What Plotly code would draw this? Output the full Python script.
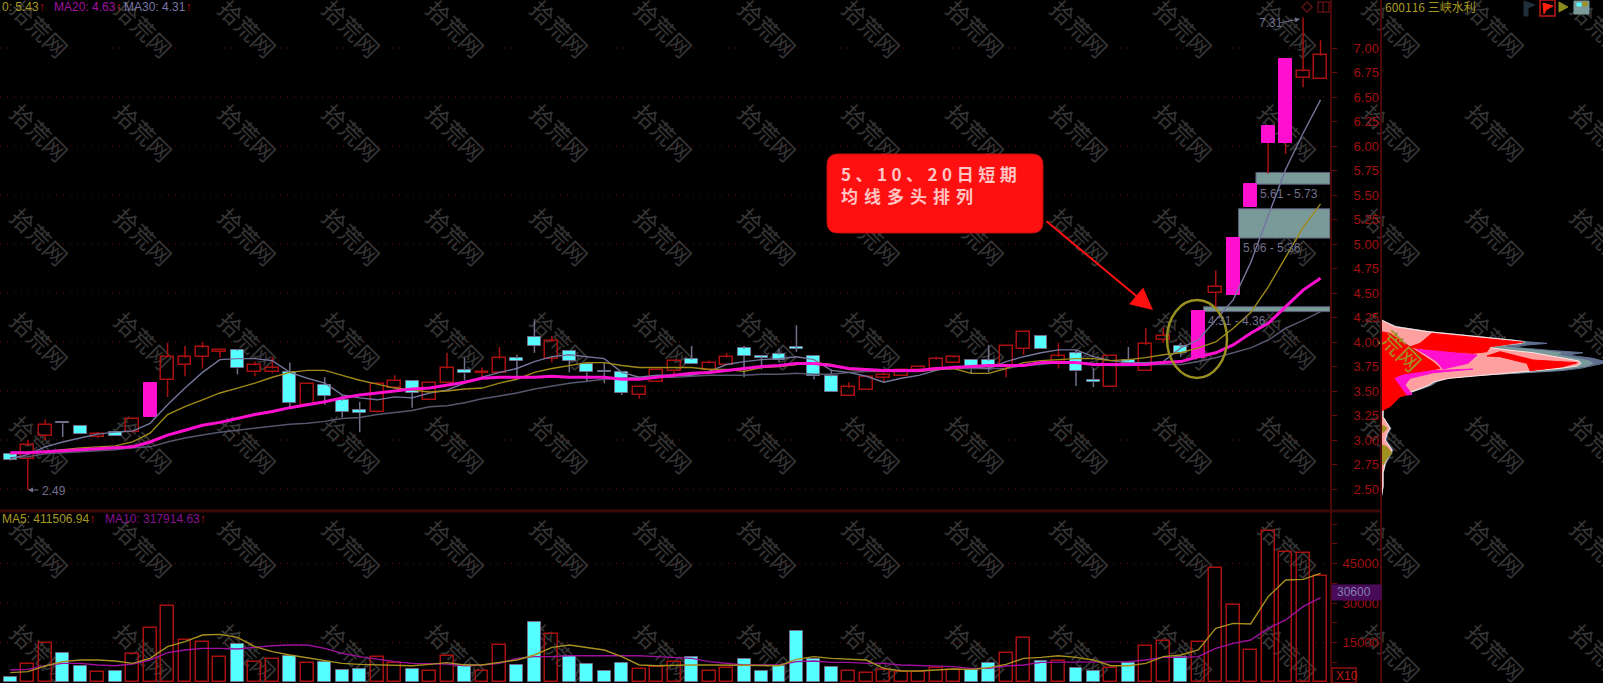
import plotly.graph_objects as go

W, H = 1603, 683

opens = [2.85,2.81,3.04,3.18,3.14,3.03,3.08,3.08,3.23,3.61,3.77,3.85,3.90,3.91,3.69,3.69,3.69,3.36,3.56,3.40,
         3.30,3.29,3.53,3.60,3.41,3.58,3.71,3.68,3.68,3.83,4.05,3.83,3.90,3.77,3.70,3.69,3.46,3.59,3.70,3.82,
         3.71,3.77,3.93,3.85,3.87,3.94,3.85,3.65,3.45,3.51,3.63,3.65,3.71,3.72,3.79,3.81,3.81,3.75,3.93,4.06,
         3.80,3.88,3.61,3.54,3.81,3.70,4.02,3.95,3.84,4.50,4.48,5.38,6.03,6.03,6.69,6.68]
closes = [2.80,2.94,3.15,3.17,3.06,3.06,3.04,3.21,3.58,3.84,3.84,3.94,3.91,3.73,3.76,3.73,3.38,3.57,3.45,3.29,
          3.28,3.57,3.60,3.48,3.58,3.73,3.68,3.69,3.83,3.81,3.96,4.00,3.81,3.69,3.69,3.48,3.53,3.71,3.80,3.78,
          3.78,3.84,3.86,3.84,3.82,3.93,3.65,3.49,3.53,3.64,3.66,3.71,3.74,3.82,3.84,3.72,3.75,3.95,4.10,3.93,
          3.85,3.70,3.59,3.85,3.79,3.97,4.06,3.89,4.31,4.56,5.06,5.61,6.20,6.88,6.76,6.92]
highs = [2.86,3.00,3.21,3.18,3.14,3.08,3.08,3.23,3.58,3.99,3.96,4.00,3.91,3.93,3.80,3.85,3.79,3.57,3.64,3.46,
         3.39,3.59,3.66,3.61,3.58,3.89,3.84,3.74,3.95,3.87,4.22,4.06,3.90,3.77,3.79,3.69,3.53,3.71,3.80,3.96,
         3.81,3.89,3.96,3.87,3.93,4.17,3.85,3.72,3.59,3.64,3.69,3.71,3.74,3.85,3.86,3.81,3.97,3.95,4.10,4.06,
         3.99,3.92,3.73,3.85,3.95,4.14,4.15,3.99,4.31,4.73,5.06,5.61,6.20,6.88,7.31,7.08]
lows = [2.79,2.49,3.00,3.03,3.06,3.02,3.04,3.07,3.23,3.44,3.65,3.73,3.84,3.67,3.65,3.68,3.34,3.36,3.36,3.23,
        3.08,3.28,3.53,3.33,3.41,3.58,3.61,3.64,3.68,3.64,3.89,3.79,3.69,3.59,3.58,3.46,3.42,3.59,3.64,3.78,
        3.71,3.77,3.64,3.72,3.80,3.90,3.62,3.49,3.45,3.51,3.59,3.65,3.71,3.72,3.79,3.68,3.69,3.64,3.87,3.93,
        3.73,3.55,3.54,3.54,3.78,3.70,3.99,3.85,3.84,4.35,4.48,5.38,5.72,5.92,6.60,6.68]
limit_up = [8, 68, 70, 71, 72, 73]

ma5 = [2.81,2.85,2.93,2.98,3.02,3.06,3.08,3.09,3.17,3.36,3.53,3.69,3.82,3.83,3.83,3.81,3.69,3.63,3.58,3.46,
       3.43,3.41,3.44,3.43,3.48,3.51,3.58,3.64,3.69,3.73,3.80,3.85,3.87,3.85,3.83,3.69,3.64,3.66,3.66,3.66,
       3.70,3.77,3.80,3.82,3.83,3.85,3.82,3.71,3.69,3.65,3.59,3.63,3.66,3.71,3.75,3.75,3.73,3.80,3.85,3.89,
       3.92,3.92,3.85,3.81,3.79,3.79,3.80,3.94,4.02,4.22,4.43,4.81,5.28,5.76,6.13,6.47]
ma10 = [2.86,2.87,2.88,2.90,2.92,2.93,2.94,2.98,3.07,3.26,3.34,3.41,3.48,3.53,3.58,3.64,3.69,3.71,3.71,3.66,
        3.61,3.57,3.53,3.51,3.49,3.50,3.52,3.53,3.58,3.62,3.69,3.73,3.76,3.79,3.79,3.76,3.74,3.74,3.74,3.74,
        3.72,3.72,3.70,3.74,3.75,3.77,3.79,3.77,3.72,3.71,3.70,3.70,3.70,3.72,3.73,3.68,3.68,3.73,3.79,3.81,
        3.82,3.83,3.83,3.81,3.82,3.84,3.87,3.89,3.94,4.00,4.14,4.30,4.56,4.87,5.17,5.41]
ma20 = [2.87,2.87,2.88,2.89,2.90,2.91,2.92,2.93,2.98,3.05,3.10,3.15,3.18,3.22,3.26,3.29,3.33,3.36,3.39,3.43,
        3.46,3.48,3.50,3.52,3.53,3.56,3.59,3.63,3.64,3.64,3.64,3.65,3.64,3.64,3.64,3.62,3.62,3.64,3.66,3.68,
        3.69,3.71,3.73,3.75,3.76,3.78,3.78,3.76,3.73,3.72,3.71,3.71,3.71,3.73,3.74,3.75,3.76,3.76,3.76,3.79,
        3.79,3.79,3.77,3.77,3.77,3.77,3.79,3.80,3.85,3.89,3.97,4.09,4.19,4.36,4.53,4.65]
ma30 = [2.82,2.83,2.86,2.87,2.88,2.89,2.90,2.92,2.93,2.98,3.02,3.05,3.08,3.10,3.12,3.14,3.16,3.17,3.19,3.22,
        3.23,3.26,3.28,3.30,3.34,3.35,3.38,3.42,3.45,3.48,3.52,3.55,3.58,3.60,3.62,3.63,3.64,3.64,3.64,3.65,
        3.66,3.66,3.66,3.67,3.67,3.68,3.67,3.67,3.69,3.70,3.70,3.70,3.70,3.72,3.73,3.73,3.73,3.73,3.76,3.77,
        3.79,3.79,3.78,3.76,3.76,3.77,3.77,3.77,3.80,3.84,3.89,3.94,4.02,4.14,4.22,4.31]

volume = [2000,6840,14700,10900,6200,3700,4050,10500,20400,28900,16000,15100,9400,14300,7700,8700,9900,7100,7500,4560,
          4940,9600,7100,4940,4300,9900,6460,4300,14060,6460,22700,18100,9900,6700,4300,7100,4940,5800,7500,9600,
          4180,5450,8600,4300,6200,19400,8600,5700,4180,3300,4560,3900,3900,5200,4560,4560,7100,10900,16600,8100,
          8100,5450,4300,5450,7100,13800,15700,9600,15300,43200,29300,12200,57400,49300,48900,40300]
vol_ma5 = [3550,3930,6080,7730,8360,8360,7980,7090,8990,13430,15330,17860,18110,16970,13430,11530,10260,9250,7980,7090,
           6710,6460,6460,6200,6710,7350,6460,6460,7470,8360,10260,13170,14060,13050,12160,9630,6460,6200,6460,6460,
           6460,6460,6460,6200,6200,8610,9630,8990,8740,8360,5190,4180,4180,4560,4940,4810,5450,6710,8990,9370,
           10000,9370,8360,6200,6200,7090,9630,10260,12160,20390,22290,22040,32430,38760,39010,41300]
vol_ma10 = [4560,4810,6200,7090,7090,6460,6200,6840,8360,11150,12160,12790,12790,12540,13170,13800,14060,14060,12790,10890,
            9630,8610,7730,7090,7090,6840,6200,6460,7090,8990,9630,9630,10000,10000,10000,10000,10000,9630,9370,8990,
            7730,7090,6460,6460,6460,7730,7980,7470,7470,7090,7090,6460,6200,6200,5830,5190,5190,6080,6460,7470,
            7470,7730,7730,7730,7730,8360,9370,9370,9630,12790,14690,15960,20390,23560,28630,32050]

price_ticks = [2.5,2.75,3.0,3.25,3.5,3.75,4.0,4.25,4.5,4.75,5.0,5.25,5.5,5.75,6.0,6.25,6.5,6.75,7.0]
price_grid = [2.5,3.0,3.5,4.0,4.5,5.0,5.5,6.0,6.5,7.0]
vol_ticks = [7500,15000,22500,30000,37500,45000,52500,60000]
vol_labels = ["","15000","","30000","","45000","",""]
vol_grid = [15000,30000,45000]

gap_low = [4.31, 5.06, 5.61]
gap_high = [4.36, 5.36, 5.73]
gap_start = [68.3, 70.3, 71.3]
gap_labels = ["4.31 - 4.36", "5.06 - 5.36", "5.61 - 5.73"]

chip_price = [4.225,4.156,4.105,4.071,4.02,4.003,3.986,3.969,3.946,3.912,3.891,3.867,3.833,3.806,3.782,3.755,3.731,3.707,3.68,3.656,
              3.629,3.595,3.561,3.527,3.493,3.459,3.425,3.374,3.306,3.238,3.17,3.119,3.068,3.0,2.898,2.83,2.762,2.66,2.524,2.398]
chip_outer = [0,16,49,85,132,146,166,146,132,172,202,186,212,222,222,210,199,179,136,92,
              66,56,51,42,32,22,14,7,2,2,7,10,7,5,12,9,5,2,2,0]
chip_teal = [0,15,48,84,131,144,144,125,125,160,180,176,195,208,212,205,190,170,130,88,
             63,54,49,41,31,21,13,6,2,2,6,9,6,4,11,8,4,2,2,0]
chip_pink = [0,14,47,82,129,142,140,120,105,132,152,165,185,198,200,196,179,152,122,95,
             68,53,48,40,31,21,12,6,2,2,6,9,6,4,11,7,4,2,2,0]
red_a_w = [29,39,51,79,119,142,109,106,92,62,36,29]
red_a_p = [3.95,3.986,4.088,4.06,4.014,3.997,3.952,3.901,3.884,3.9,3.935,3.95]
red_b_w = [0,9,34,54,59,42,26,14,19,26,19,9,2,0,0]
red_b_p = [4.105,4.088,3.918,3.782,3.731,3.697,3.663,3.629,3.561,3.459,3.442,3.34,3.306,3.289,4.105]
red_c_w = [106,119,152,196,182,149,146,119,106]
red_c_p = [3.857,3.901,3.816,3.789,3.748,3.707,3.782,3.85,3.857]
mag_a_w = [36,62,96,87,62,56,46,36]
mag_a_p = [3.925,3.9,3.867,3.782,3.724,3.799,3.867,3.925]
mag_b_w = [14,22,52,92,52,29,24,31,26,19,14]
mag_b_p = [3.629,3.663,3.707,3.724,3.686,3.629,3.561,3.466,3.459,3.561,3.629]
olive_a_w = [2,6,2,1,2]
olive_a_p = [3.153,3.119,3.075,3.119,3.153]
olive_b_w = [1,6,11,6,2,1,1]
olive_b_p = [2.95,2.93,2.864,2.813,2.745,2.83,2.95]

UP = "#a81010"
CYAN = "#55ffff"
MAG = "#ff10d0"
DOWNLINE = "#70708c"
DARK = "#4a0808"
GRID = "#6a0c0c"
CLEAR = "rgba(0,0,0,0)"
FONT = "Liberation Sans"
CJK = "Noto Sans CJK SC"

n = len(opens)
xs = list(range(n))
PX = 17.47
def xdata(px): return (px - 10.3) / PX
def fx(px): return px / W
def fy(py): return 1 - py / H

fig = go.Figure()

up_i = [i for i in xs if closes[i] >= opens[i] and i not in limit_up]
down_i = [i for i in xs if closes[i] < opens[i]]

def wick_segments(idx):
    wx, wy = [], []
    for i in idx:
        top, bot = max(opens[i], closes[i]), min(opens[i], closes[i])
        wx += [i, i, None, i, i, None]
        wy += [highs[i], top, None, bot, lows[i], None]
    return wx, wy

def body(idx, fill, line, width=1.5):
    fig.add_trace(go.Bar(
        x=idx, y=[abs(closes[i] - opens[i]) + 0.006 for i in idx],
        base=[min(opens[i], closes[i]) for i in idx],
        width=0.74, marker=dict(color=fill, line=dict(color=line, width=width)),
        xaxis="x", yaxis="y", showlegend=False, hoverinfo="skip"))

body(up_i, CLEAR, UP)
body(down_i, CYAN, DOWNLINE, 1)
body(limit_up, MAG, MAG, 1)

for idx, col in ((up_i + limit_up, UP), (down_i, DOWNLINE)):
    wx, wy = wick_segments(idx)
    fig.add_trace(go.Scatter(x=wx, y=wy, mode="lines", line=dict(color=col, width=1.5),
                             xaxis="x", yaxis="y", showlegend=False, hoverinfo="skip"))

for vals, col, wd in ((ma30, "#56566e", 1.5), (ma5, "#74749c", 1.4), (ma10, "#a08a18", 1.4), (ma20, MAG, 3)):
    fig.add_trace(go.Scatter(x=xs, y=vals, mode="lines", line=dict(color=col, width=wd),
                             xaxis="x", yaxis="y", showlegend=False, hoverinfo="skip"))

vol_up = [i for i in xs if i not in down_i]
fig.add_trace(go.Bar(x=vol_up, y=[volume[i] for i in vol_up], width=0.74,
                     marker=dict(color=CLEAR, line=dict(color=UP, width=1.5)),
                     xaxis="x2", yaxis="y2", showlegend=False, hoverinfo="skip"))
fig.add_trace(go.Bar(x=down_i, y=[volume[i] for i in down_i], width=0.74,
                     marker=dict(color=CYAN, line=dict(color=DOWNLINE, width=1)),
                     xaxis="x2", yaxis="y2", showlegend=False, hoverinfo="skip"))
for vals, col in ((vol_ma10, "#a010a0"), (vol_ma5, "#a89020")):
    fig.add_trace(go.Scatter(x=xs, y=vals, mode="lines", line=dict(color=col, width=1.4),
                             xaxis="x2", yaxis="y2", showlegend=False, hoverinfo="skip"))

def poly(w, p, col, line=None):
    fig.add_trace(go.Scatter(x=w, y=p, mode="lines", fill="toself", fillcolor=col,
                             line=dict(color=line or col, width=1), xaxis="x3", yaxis="y",
                             showlegend=False, hoverinfo="skip"))
poly(chip_outer, chip_price, "#5f6f8f")
poly(chip_teal, chip_price, "#7a9a9a")
poly(chip_pink, chip_price, "#ffa0a0", "#ffe4e4")
poly(red_a_w, red_a_p, "#ff0000")
poly(red_b_w, red_b_p, "#ff0000")
poly(red_c_w, red_c_p, "#ff0000")
poly(mag_a_w, mag_a_p, MAG)
poly(mag_b_w, mag_b_p, MAG)
poly(olive_a_w, olive_a_p, "#a09020")
poly(olive_b_w, olive_b_p, "#a09020")

shapes = []
DOTS = "1px,6px"
for v in price_grid:
    shapes.append(dict(type="line", xref="x", yref="y", x0=xdata(0), x1=xdata(1331), y0=v, y1=v,
                       layer="below", line=dict(color=GRID, width=1, dash=DOTS)))
for v in vol_grid:
    shapes.append(dict(type="line", xref="x2", yref="y2", x0=xdata(0), x1=xdata(1331), y0=v, y1=v,
                       layer="below", line=dict(color=GRID, width=1, dash=DOTS)))
for lo, hi, st in zip(gap_low, gap_high, gap_start):
    shapes.append(dict(type="rect", xref="x", yref="y", x0=st, x1=xdata(1330), y0=lo, y1=hi,
                       layer="below", fillcolor="#7a9a9a", line=dict(color="#5a5a78", width=1)))

# repeated watermark, behind the marks
for j in range(7):
    for k in range(16):
        cx, cy = 37 + 104 * k, 31 + 104 * j
        shapes.append(dict(type="rect", xref="paper", yref="paper",
                           x0=fx(cx - 40), x1=fx(cx + 40), y0=fy(cy + 40), y1=fy(cy - 40),
                           layer="below", line=dict(width=0), fillcolor=CLEAR,
                           label=dict(text="拾荒网", textangle=45, textposition="middle center",
                                      font=dict(family=CJK, size=23, color="#363636"))))
shapes.append(dict(type="rect", xref="paper", yref="paper",
                   x0=fx(1360), x1=fx(1438), y0=fy(392), y1=fy(314), layer="above",
                   line=dict(width=0), fillcolor=CLEAR,
                   label=dict(text="荒网", textangle=45, textposition="middle center",
                              font=dict(family=CJK, size=23, color="#a09020"))))

def pline(x0, y0, x1, y1, col=DARK, w=2):
    shapes.append(dict(type="line", xref="paper", yref="paper", x0=fx(x0), x1=fx(x1),
                       y0=fy(y0), y1=fy(y1), layer="above", line=dict(color=col, width=w)))
def prect(x0, y0, x1, y1, fill=CLEAR, col=None, w=1):
    shapes.append(dict(type="rect", xref="paper", yref="paper", x0=fx(x0), x1=fx(x1),
                       y0=fy(y1), y1=fy(y0), layer="above", fillcolor=fill,
                       line=dict(color=col or fill, width=w)))
def ppath(points, fill, col=None, w=1):
    d = "M " + " L ".join(f"{fx(a):.5f},{fy(b):.5f}" for a, b in points) + " Z"
    shapes.append(dict(type="path", xref="paper", yref="paper", path=d, layer="above",
                       fillcolor=fill, line=dict(color=col or fill, width=w)))

# pane borders
pline(0, 511, 1381, 511, "#3c0808", 3)
pline(1331, 0, 1331, H, DARK, 2)
pline(1381, 0, 1381, H, DARK, 2)

# callout
r, x0, y0, x1, y1 = 11, 827, 154, 1043, 233
d = (f"M {fx(x0+r)},{fy(y0)} L {fx(x1-r)},{fy(y0)} Q {fx(x1)},{fy(y0)} {fx(x1)},{fy(y0+r)} "
     f"L {fx(x1)},{fy(y1-r)} Q {fx(x1)},{fy(y1)} {fx(x1-r)},{fy(y1)} L {fx(x0+r)},{fy(y1)} "
     f"Q {fx(x0)},{fy(y1)} {fx(x0)},{fy(y1-r)} L {fx(x0)},{fy(y0+r)} Q {fx(x0)},{fy(y0)} {fx(x0+r)},{fy(y0)} Z")
shapes.append(dict(type="path", xref="paper", yref="paper", path=d, layer="above",
                   fillcolor="#ff1010", line=dict(color="#c01010", width=1)))

# ellipse around breakout
shapes.append(dict(type="circle", xref="paper", yref="paper", x0=fx(1167), x1=fx(1227),
                   y0=fy(378), y1=fy(300), layer="above", line=dict(color="#9a9020", width=2.5)))

# purple last-value box and X10 box
prect(1332, 585, 1381, 600, "#4a0a5a")
prect(1332, 668, 1356, 683, CLEAR, "#6a0c0c", 2)

# toolbar icons
ppath([(1307, 2), (1312, 7), (1307, 12), (1302, 7)], CLEAR, "#5a1010", 1.5)
prect(1318, 2, 1329, 12, CLEAR, "#5a1010", 1.5)
pline(1323, 2, 1323, 12, "#5a1010", 1.5)
ppath([(1524, 1), (1535, 5), (1528, 8), (1528, 16), (1524, 16)], "#20303a")
prect(1540, 0, 1555, 16, CLEAR, "#c01818", 1.5)
ppath([(1543, 3), (1553, 6), (1546, 10), (1544, 14)], "#ff2010")
ppath([(1559, 2), (1568, 7), (1559, 12)], "#8a8a20")
prect(1574, 1, 1589, 14, "#7a9a9a")
prect(1577, 3, 1581, 6, CYAN)
prect(1583, 2, 1587, 6, "#a09020")

ann = []
def text(px, py, s, col, size=12, family=FONT, anchor="left"):
    ann.append(dict(x=fx(px), y=fy(py), xref="paper", yref="paper", text=s, showarrow=False,
                    xanchor=anchor, yanchor="middle", font=dict(family=family, size=size, color=col)))

arrow = '<span style="color:#c01010">↑</span>'
text(0, 7, "0: 5.43" + arrow, "#a89a20")
text(52, 7, "MA20: 4.63" + arrow, "#a010a0")
text(122, 7, "MA30: 4.31" + arrow, "#7878a8")
text(0, 519, "MA5: 411506.94" + arrow, "#a89a20")
text(103, 519, "MA10: 317914.63" + arrow, "#8a1090")
text(1383, 7, "600116 三峡水利", "#a89a20", 12, CJK)
text(1335, 592, "30600", "#8080b0")
text(1334, 676, "X10", "#c01818")

text(839, 173, '<b><span style="letter-spacing:4.5px">5、10、20日短期</span></b>', "#ffc4c4", 17, CJK)
text(839, 195, '<b><span style="letter-spacing:6px">均线多头排列</span></b>', "#ffc4c4", 17, CJK)

for label, lo, st, px in zip(gap_labels, gap_low, gap_start, (1206, 1241, 1258)):
    py = {4.31: 321, 5.06: 248, 5.61: 194}[lo]
    text(px, py, label, "#70708c", 12)

text(1257, 23, "7.31", "#70708c", 12)
text(40, 491, "2.49", "#70708c", 12)

for hx, hy, tx, ty in ((1153, 310, 1045, 220), (1300, 19, 1279, 23), (28, 490, 40, 490)):
    is_red = hx == 1153
    ann.append(dict(x=fx(hx), y=fy(hy), xref="paper", yref="paper",
                    ax=tx - hx, ay=ty - hy, axref="pixel", ayref="pixel", text="", showarrow=True,
                    arrowhead=2, arrowsize=2.2 if is_red else 1, arrowwidth=2 if is_red else 1,
                    arrowcolor="#ff1010" if is_red else "#70708c"))

hidden = dict(visible=False, showgrid=False, zeroline=False, fixedrange=True)
axis_font = dict(family=FONT, size=13, color="#a01010")

fig.update_layout(
    width=W, height=H, margin=dict(l=0, r=0, t=0, b=0), autosize=False,
    paper_bgcolor="#000000", plot_bgcolor="#000000", showlegend=False, barmode="overlay", bargap=0,
    xaxis=dict(domain=[0, 1331 / W], range=[xdata(0), xdata(1331)], anchor="y", **hidden),
    xaxis2=dict(domain=[0, 1331 / W], range=[xdata(0), xdata(1331)], anchor="y2", **hidden),
    xaxis3=dict(domain=[1381 / W, 1], range=[0, 222], anchor="y", **hidden),
    yaxis=dict(domain=[1 - 511 / H, 1], range=[(734 - 511) / 98, 734 / 98], anchor="x", side="right",
               tickvals=price_ticks, ticktext=[f"{v:.2f}" for v in price_ticks], ticks="outside",
               ticklen=5, tickcolor="#6a0c0c", tickfont=axis_font, ticklabelstandoff=14,
               showgrid=False, zeroline=False, showline=False, fixedrange=True),
    yaxis2=dict(domain=[0, 1 - 511 / H], range=[-380, 64980], anchor="x2", side="right",
                tickvals=vol_ticks, ticktext=vol_labels, ticks="outside", ticklen=5,
                tickcolor="#6a0c0c", tickfont=axis_font, ticklabelstandoff=3,
                showgrid=False, zeroline=False, showline=False, fixedrange=True),
    shapes=shapes, annotations=ann,
)

fig.write_html("out.html", config=dict(displayModeBar=False),
               post_script="document.body.style.margin='0';document.body.style.background='#000';")
